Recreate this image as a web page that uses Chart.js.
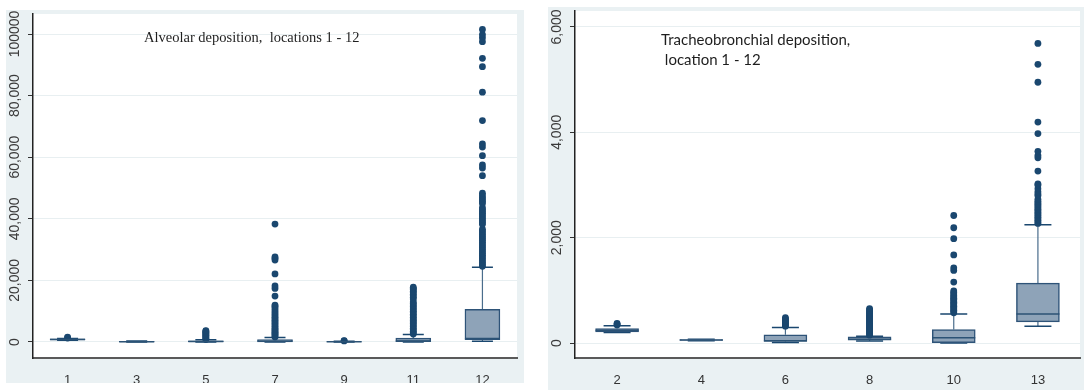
<!DOCTYPE html>
<html>
<head>
<meta charset="utf-8">
<script src="https://cdn.jsdelivr.net/npm/chart.js@4/dist/chart.umd.min.js"></script>
<style>
  body { margin: 0; background: #fff; width: 1084px; height: 390px; position: relative; overflow: hidden; }
  .panel { position: absolute; background: #eaf1f3; }
  #panelL { left: 6px; top: 10px; width: 518px; height: 373px; }
  #panelR { left: 548px; top: 7px; width: 536px; height: 383px; }
  .title { position: absolute; color: #1e1e1e; white-space: pre; }
  #titleL { left: 144px; top: 29px; font: 14.5px "Liberation Serif", serif; line-height: 17px; }
  #titleR { left: 661px; top: 29px; font: 15px Lato, sans-serif; line-height: 20px; }
</style>
</head>
<body>
<div class="panel" id="panelL"><canvas id="alveolar" width="518" height="373"></canvas></div>
<div class="panel" id="panelR"><canvas id="tracheo" width="536" height="383"></canvas></div>
<div class="title" id="titleL">Alveolar deposition,  locations 1 - 12</div>
<div class="title" id="titleR">Tracheobronchial deposition,
 location 1 - 12</div>
<script>
// Alveolar deposition, locations 1 - 12
const alvLocations = ['1', '3', '5', '7', '9', '11', '12'];
const alvLow    = [600, 0, 0, 0, 0, 0, 230];
const alvQ1     = [700, 20, 100, 50, 0, 100, 750];
const alvMedian = [850, 100, 200, 300, 50, 350, 1100];
const alvQ3     = [1000, 250, 400, 800, 150, 1300, 10600];
const alvHigh   = [1100, 350, 700, 1500, 250, 2400, 24300];
const alvOutliers = [
    [1300, 1600],
    [],
    [800, 1100, 1400, 1700, 2000, 2300, 2600, 2900, 3200, 3500, 3700],
    [1600, 2000, 2400, 2800, 3200, 3600, 4000, 4500, 5000, 5500, 6000, 6500, 7000, 7500, 8000,
     8600, 9200, 9800, 10400, 11000, 11600, 12000, 14900, 17400, 18200, 22100, 26600, 27200, 27600, 38300],
    [350, 450],
    [2600, 3000, 3500, 4000, 4500, 5000, 5500, 6000, 6500, 7000, 7500, 8000, 8500, 9000, 9500, 10000,
     10500, 11000, 11500, 12000, 12500, 13000, 14000, 14500, 15000, 15500, 16000, 16500, 17000, 17400, 17800],
    [24600, 25200, 25800, 26400, 27000, 27600, 28200, 28800, 29400, 30000, 30600, 31200, 31800, 32400,
     33000, 33600, 34200, 34800, 35400, 36000, 36600, 38200, 38800, 39400, 40000, 40600, 41200, 41800,
     42400, 43000, 43600, 45000, 45600, 46200, 46800, 47500, 48300, 54000, 56500, 57500, 60500, 63300,
     64300, 71900, 81100, 89400, 92100, 97500, 98800, 99800, 101500]
];
const alvTicks = [0, 20000, 40000, 60000, 80000, 100000];
const alvTickLabels = ['0', '20,000', '40,000', '60,000', '80,000', '100000'];

// Tracheobronchial deposition, location 1 - 12
const trLocations = ['2', '4', '6', '8', '10', '13'];
const trLow    = [200, 45, 10, 40, 0, 321];
const trQ1     = [213, 52, 32, 57, 6, 402];
const trMedian = [240, 60, 45, 75, 100, 553];
const trQ3     = [277, 68, 157, 119, 258, 1138];
const trHigh   = [327, 75, 296, 132, 553, 2245];
const trOutliers = [
    [345, 360, 372],
    [],
    [320, 340, 360, 380, 400, 420, 440, 460, 485],
    [150, 170, 190, 210, 230, 250, 270, 290, 310, 330, 350, 370, 390, 410, 430, 450, 470, 490, 510,
     530, 550, 570, 590, 610, 630, 655],
    [575, 600, 625, 650, 675, 700, 725, 750, 775, 800, 825, 850, 875, 900, 930, 960, 990, 1157,
     1378, 1428, 1673, 1981, 2189, 2421],
    [2270, 2300, 2330, 2360, 2390, 2420, 2450, 2480, 2510, 2540, 2570, 2600, 2630, 2660, 2690, 2730,
     2800, 2830, 2870, 2930, 3000, 3020, 3265, 3515, 3560, 3640, 3975, 4195, 4950, 5290, 5686]
];
const trTicks = [0, 2000, 4000, 6000];
const trTickLabels = ['0', '2,000', '4,000', '6,000'];

const NAVY = '#1a476f';

// fond blanc de la zone de tracé
const plotBackground = {
    id: 'plotBackground',
    beforeDraw(chart) {
        const a = chart.chartArea;
        chart.ctx.save();
        chart.ctx.fillStyle = '#ffffff';
        chart.ctx.fillRect(a.left, a.top, a.right - a.left, a.bottom - a.top);
        chart.ctx.restore();
    }
};

// moustaches, bornes et médianes des boîtes
const boxParts = {
    id: 'boxParts',
    beforeDatasetsDraw(chart, args, opts) {
        const x = chart.scales.x, y = chart.scales.y, ctx = chart.ctx;
        ctx.save();
        opts.low.forEach((lo, i) => {
            const cx = x.getPixelForValue(i);
            const half = opts.capWidth / 2;
            ctx.beginPath();
            ctx.strokeStyle = '#4a6d8c';
            ctx.lineWidth = 1.2;
            ctx.moveTo(cx, y.getPixelForValue(opts.q3[i]));
            ctx.lineTo(cx, y.getPixelForValue(opts.high[i]));
            ctx.moveTo(cx, y.getPixelForValue(opts.q1[i]));
            ctx.lineTo(cx, y.getPixelForValue(lo));
            ctx.stroke();
            ctx.beginPath();
            ctx.strokeStyle = NAVY;
            ctx.lineWidth = 1.5;
            ctx.moveTo(cx - half, y.getPixelForValue(opts.high[i]));
            ctx.lineTo(cx + half, y.getPixelForValue(opts.high[i]));
            ctx.moveTo(cx - half, y.getPixelForValue(lo));
            ctx.lineTo(cx + half, y.getPixelForValue(lo));
            ctx.stroke();
        });
        ctx.restore();
    },
    afterDatasetsDraw(chart, args, opts) {
        const x = chart.scales.x, y = chart.scales.y, ctx = chart.ctx;
        ctx.save();
        ctx.strokeStyle = '#2b5275';
        ctx.lineWidth = 1.5;
        opts.median.forEach((m, i) => {
            const cx = x.getPixelForValue(i);
            const py = y.getPixelForValue(m);
            ctx.beginPath();
            ctx.moveTo(cx - opts.boxWidth / 2, py);
            ctx.lineTo(cx + opts.boxWidth / 2, py);
            ctx.stroke();
        });
        ctx.restore();
    }
};

// étiquettes de l'axe Y tournées à 90°
const yLabels = {
    id: 'yLabels',
    afterDraw(chart, args, opts) {
        const y = chart.scales.y, ctx = chart.ctx;
        ctx.save();
        ctx.fillStyle = '#3a3a3a';
        ctx.font = '14px "Liberation Sans", Arial, sans-serif';
        ctx.textAlign = 'center';
        ctx.textBaseline = 'middle';
        opts.values.forEach((v, i) => {
            ctx.save();
            ctx.translate(opts.x, y.getPixelForValue(v));
            ctx.rotate(-Math.PI / 2);
            ctx.fillText(opts.labels[i], 0, 0);
            ctx.restore();
        });
        ctx.restore();
    }
};

function boxChart(canvasId, p) {
    const outlierPoints = [];
    p.outliers.forEach((list, i) => {
        list.forEach(v => outlierPoints.push({ x: p.labels[i], y: v }));
    });

    return new Chart(document.getElementById(canvasId), {
        type: 'bar',
        data: {
            labels: p.labels,
            datasets: [{
                type: 'line',
                data: outlierPoints,
                showLine: false,
                pointRadius: 3.4,
                pointBackgroundColor: NAVY,
                pointBorderColor: NAVY,
                pointBorderWidth: 0,
                order: 1
            }, {
                type: 'bar',
                data: p.q1.map((v, i) => [v, p.q3[i]]),
                backgroundColor: '#8ea3b8',
                borderColor: '#2e5378',
                borderWidth: 1.5,
                borderSkipped: false,
                barThickness: p.boxWidth,
                order: 2
            }]
        },
        options: {
            responsive: false,
            animation: false,
            events: [],
            layout: { padding: p.padding },
            scales: {
                x: {
                    type: 'category',
                    offset: true,
                    grid: { display: false },
                    border: { display: true, color: '#5a5a5a', width: 2 },
                    ticks: {
                        padding: 7,
                        color: '#333',
                        font: { family: '"Liberation Sans", Arial, sans-serif', size: 13 }
                    },
                    afterFit: (s) => { s.height = p.xAxisHeight; }
                },
                y: {
                    min: p.yMin,
                    max: p.yMax,
                    afterBuildTicks: (s) => { s.ticks = p.ticks.map(v => ({ value: v })); },
                    grid: { color: '#e8eff1', lineWidth: 1, tickColor: '#333', tickLength: 5 },
                    border: { display: true, color: '#222', width: 1.5 },
                    ticks: { display: false },
                    afterFit: (s) => { s.width = 27; }
                }
            },
            plugins: {
                legend: { display: false },
                tooltip: { enabled: false },
                boxParts: {
                    low: p.low, q1: p.q1, median: p.median, q3: p.q3, high: p.high,
                    capWidth: p.capWidth, boxWidth: p.boxWidth
                },
                yLabels: { values: p.ticks, labels: p.tickLabels, x: 9 }
            }
        },
        plugins: [plotBackground, boxParts, yLabels]
    });
}

boxChart('alveolar', {
    labels: alvLocations, low: alvLow, q1: alvQ1, median: alvMedian, q3: alvQ3, high: alvHigh,
    outliers: alvOutliers, ticks: alvTicks, tickLabels: alvTickLabels,
    yMin: -5195, yMax: 106494, boxWidth: 35, capWidth: 21,
    padding: { top: 4, right: 7, bottom: 0, left: 0 }, xAxisHeight: 25
});

boxChart('tracheo', {
    labels: trLocations, low: trLow, q1: trQ1, median: trMedian, q3: trQ3, high: trHigh,
    outliers: trOutliers, ticks: trTicks, tickLabels: trTickLabels,
    yMin: -283, yMax: 6302, boxWidth: 43, capWidth: 27,
    padding: { top: 2, right: 0, bottom: 0, left: 0 }, xAxisHeight: 32
});
</script>
</body>
</html>
